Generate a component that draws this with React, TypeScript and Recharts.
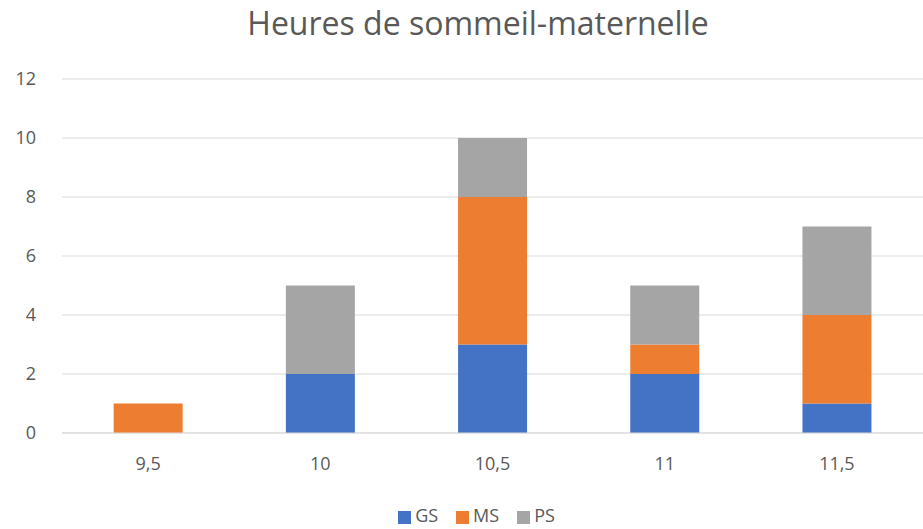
import { Bar, BarChart, CartesianGrid, Legend, XAxis, YAxis } from "recharts";

const categories = ["9,5", "10", "10,5", "11", "11,5"];
const gs = [0, 2, 3, 2, 1];
const ms = [1, 0, 5, 1, 3];
const ps = [0, 3, 2, 2, 3];
const yTicks = [0, 2, 4, 6, 8, 10, 12];

const font = "'Open Sans', 'Liberation Sans', sans-serif";
const textColor = "#595959";

export default function App() {
  const data = categories.map((c, i) => ({
    name: c,
    GS: gs[i] || null,
    MS: ms[i] || null,
    PS: ps[i] || null,
  }));

  return (
    <div style={{ position: "absolute", left: 0, top: 0, width: 923, height: 529, background: "#fff", fontFamily: font }}>
      <div
        style={{
          position: "absolute",
          top: 1,
          left: 0,
          width: 956,
          textAlign: "center",
          fontSize: 32,
          color: textColor,
        }}
      >
        Heures de sommeil-maternelle
      </div>
      <BarChart
        width={923}
        height={529}
        data={data}
        margin={{ top: 79, right: 0, left: 0, bottom: 0 }}
        barCategoryGap="30%"
      >
        <CartesianGrid vertical={false} stroke="#d9d9d9" />
        <XAxis
          dataKey="name"
          axisLine={{ stroke: "#d9d9d9" }}
          tickLine={false}
          tick={{ fill: textColor, fontSize: 18, fontFamily: font }}
          tickMargin={18}
          height={70}
        />
        <YAxis
          domain={[0, 12]}
          ticks={yTicks}
          axisLine={false}
          tickLine={false}
          tick={{ fill: textColor, fontSize: 18, fontFamily: font }}
          tickMargin={20}
          width={62}
        />
        <Legend
          verticalAlign="bottom"
          align="center"
          iconType="square"
          iconSize={13}
          height={26}
          wrapperStyle={{ paddingLeft: 24, fontSize: 18, fontFamily: font }}
          formatter={(v) => <span style={{ color: textColor, paddingRight: 8 }}>{v}</span>}
        />
        <Bar dataKey="GS" stackId="a" fill="#4472C4" isAnimationActive={false} />
        <Bar dataKey="MS" stackId="a" fill="#ED7D31" isAnimationActive={false} />
        <Bar dataKey="PS" stackId="a" fill="#A5A5A5" isAnimationActive={false} />
      </BarChart>
    </div>
  );
}
